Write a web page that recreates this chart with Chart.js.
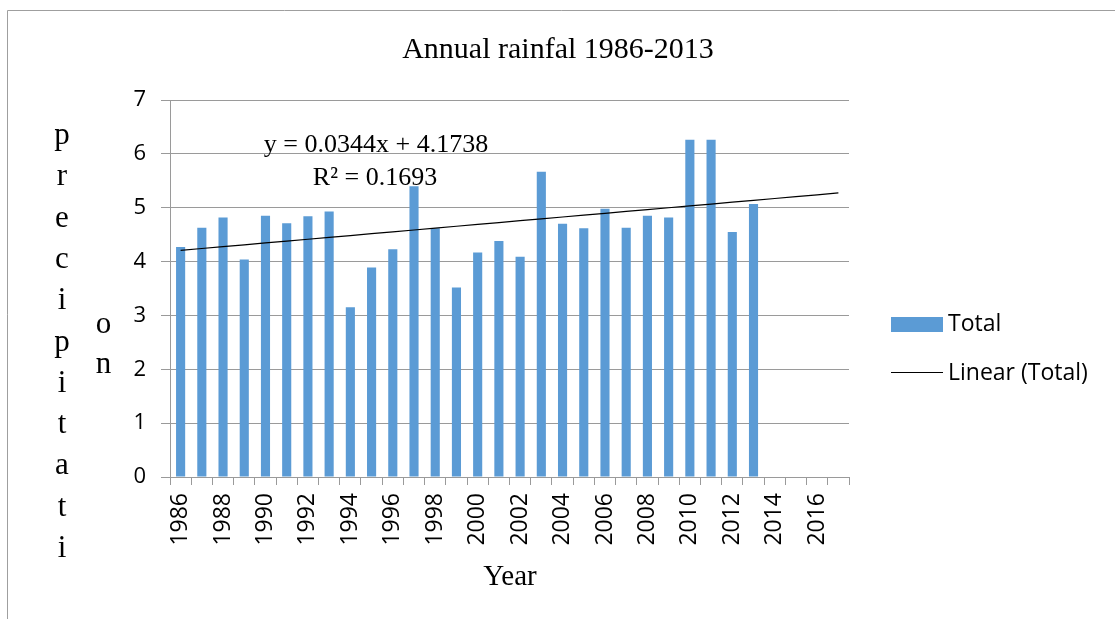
<!DOCTYPE html>
<html>
<head>
<meta charset="utf-8">
<title>Annual rainfal 1986-2013</title>
<script src="https://cdn.jsdelivr.net/npm/chart.js@4/dist/chart.umd.min.js"></script>
<style>
  html, body { margin: 0; padding: 0; background: #fff; }
  canvas { display: block; }
</style>
</head>
<body>
<canvas id="rain" width="1115" height="619"></canvas>
<script>
// Years on the category axis (axis runs on to 2017)
const years = ['1986','1987','1988','1989','1990','1991','1992','1993','1994','1995',
               '1996','1997','1998','1999','2000','2001','2002','2003','2004','2005',
               '2006','2007','2008','2009','2010','2011','2012','2013','2014','2015',
               '2016','2017'];

// Annual precipitation totals, 1986-2013
const totals = [4.27, 4.63, 4.82, 4.04, 4.85, 4.71, 4.84, 4.93, 3.15, 3.89,
                4.23, 5.40, 4.62, 3.52, 4.17, 4.38, 4.09, 5.67, 4.70, 4.62,
                4.98, 4.63, 4.85, 4.82, 6.26, 6.26, 4.55, 5.07, null, null,
                null, null];

// Linear trend line of the totals (x = 1, 2, ... per category)
const trendSlope = 0.0344;
const trendIntercept = 4.1738;
const trendR2 = 0.1693;
const trend = years.map((_, i) => trendSlope * (i + 1) + trendIntercept);

const yTicks = [0, 1, 2, 3, 4, 5, 6, 7];

const SERIF = '"Liberation Serif", "Times New Roman", serif';
const SANS = '"Open Sans", "Liberation Sans", Arial, sans-serif';
const GRID = '#9a9a9a';
const BAR = '#5B9BD5';

// Static text, legend and the outer frame drawn on the canvas
const decorations = {
  id: 'decorations',
  afterDraw(chart) {
    const ctx = chart.ctx;
    ctx.save();

    // outer frame (left and top edges)
    ctx.strokeStyle = '#9f9f9f';
    ctx.lineWidth = 1;
    ctx.beginPath();
    ctx.moveTo(7.5, 619);
    ctx.lineTo(7.5, 10.5);
    ctx.lineTo(1115, 10.5);
    ctx.stroke();

    ctx.fillStyle = '#000';
    ctx.textAlign = 'center';
    ctx.textBaseline = 'alphabetic';

    // title
    ctx.font = '30px ' + SERIF;
    ctx.fillText('Annual rainfal 1986-2013', 558, 58);

    // x axis title
    ctx.font = '29px ' + SERIF;
    ctx.fillText('Year', 510, 585);

    // y axis title, wrapped one letter per line
    ctx.font = '31px ' + SERIF;
    const col1 = 'precipitati'.split('');
    col1.forEach((ch, i) => ctx.fillText(ch, 62, 144 + 41.3 * i));
    ctx.fillText('o', 103.5, 333);
    ctx.fillText('n', 103.5, 373);

    // trend line equation
    ctx.font = '26px ' + SERIF;
    ctx.fillText('y = ' + trendSlope.toFixed(4) + 'x + ' + trendIntercept.toFixed(4), 376, 152);
    ctx.fillText('R\u00B2 = ' + trendR2.toFixed(4), 375, 185);

    // legend
    ctx.fillStyle = BAR;
    ctx.fillRect(891, 317, 52, 15);
    ctx.strokeStyle = '#000';
    ctx.lineWidth = 1;
    ctx.beginPath();
    ctx.moveTo(891, 372.5);
    ctx.lineTo(943, 372.5);
    ctx.stroke();
    ctx.fillStyle = '#000';
    ctx.textAlign = 'left';
    ctx.textBaseline = 'middle';
    ctx.font = '23px ' + SANS;
    ctx.fillText('Total', 948, 324);
    ctx.fillText('Linear (Total)', 948, 373);

    ctx.restore();
  }
};

new Chart(document.getElementById('rain'), {
  data: {
    labels: years,
    datasets: [
      {
        type: 'bar',
        label: 'Total',
        data: totals,
        backgroundColor: BAR,
        borderWidth: 0,
        barPercentage: 0.43,
        categoryPercentage: 1.0,
        order: 2
      },
      {
        type: 'line',
        label: 'Linear (Total)',
        data: trend,
        borderColor: '#000',
        borderWidth: 1.2,
        pointRadius: 0,
        fill: false,
        tension: 0,
        order: 1
      }
    ]
  },
  options: {
    responsive: false,
    animation: false,
    devicePixelRatio: 1,
    layout: { padding: { top: 100, right: 266, bottom: 0, left: 0 } },
    plugins: {
      legend: { display: false },
      title: { display: false },
      tooltip: { enabled: false }
    },
    scales: {
      x: {
        type: 'category',
        offset: true,
        grid: {
          offset: true,
          drawOnChartArea: false,
          drawTicks: true,
          tickLength: 8,
          color: GRID
        },
        border: { color: GRID, width: 1 },
        ticks: {
          autoSkip: false,
          minRotation: 90,
          maxRotation: 90,
          padding: 8,
          color: '#000',
          font: { family: SANS, size: 23 },
          callback(value, index) {
            return index % 2 === 0 ? this.getLabelForValue(value) : '';
          }
        },
        afterFit(scale) { scale.height = 142; }
      },
      y: {
        min: 0,
        max: 7,
        afterBuildTicks(scale) { scale.ticks = yTicks.map(v => ({ value: v })); },
        grid: {
          color: GRID,
          drawTicks: true,
          tickLength: 9
        },
        border: { color: GRID, width: 1 },
        ticks: {
          padding: 15,
          color: '#000',
          font: { family: SANS, size: 22 }
        },
        afterFit(scale) { scale.width = 170; }
      }
    }
  },
  plugins: [decorations]
});
</script>
</body>
</html>
